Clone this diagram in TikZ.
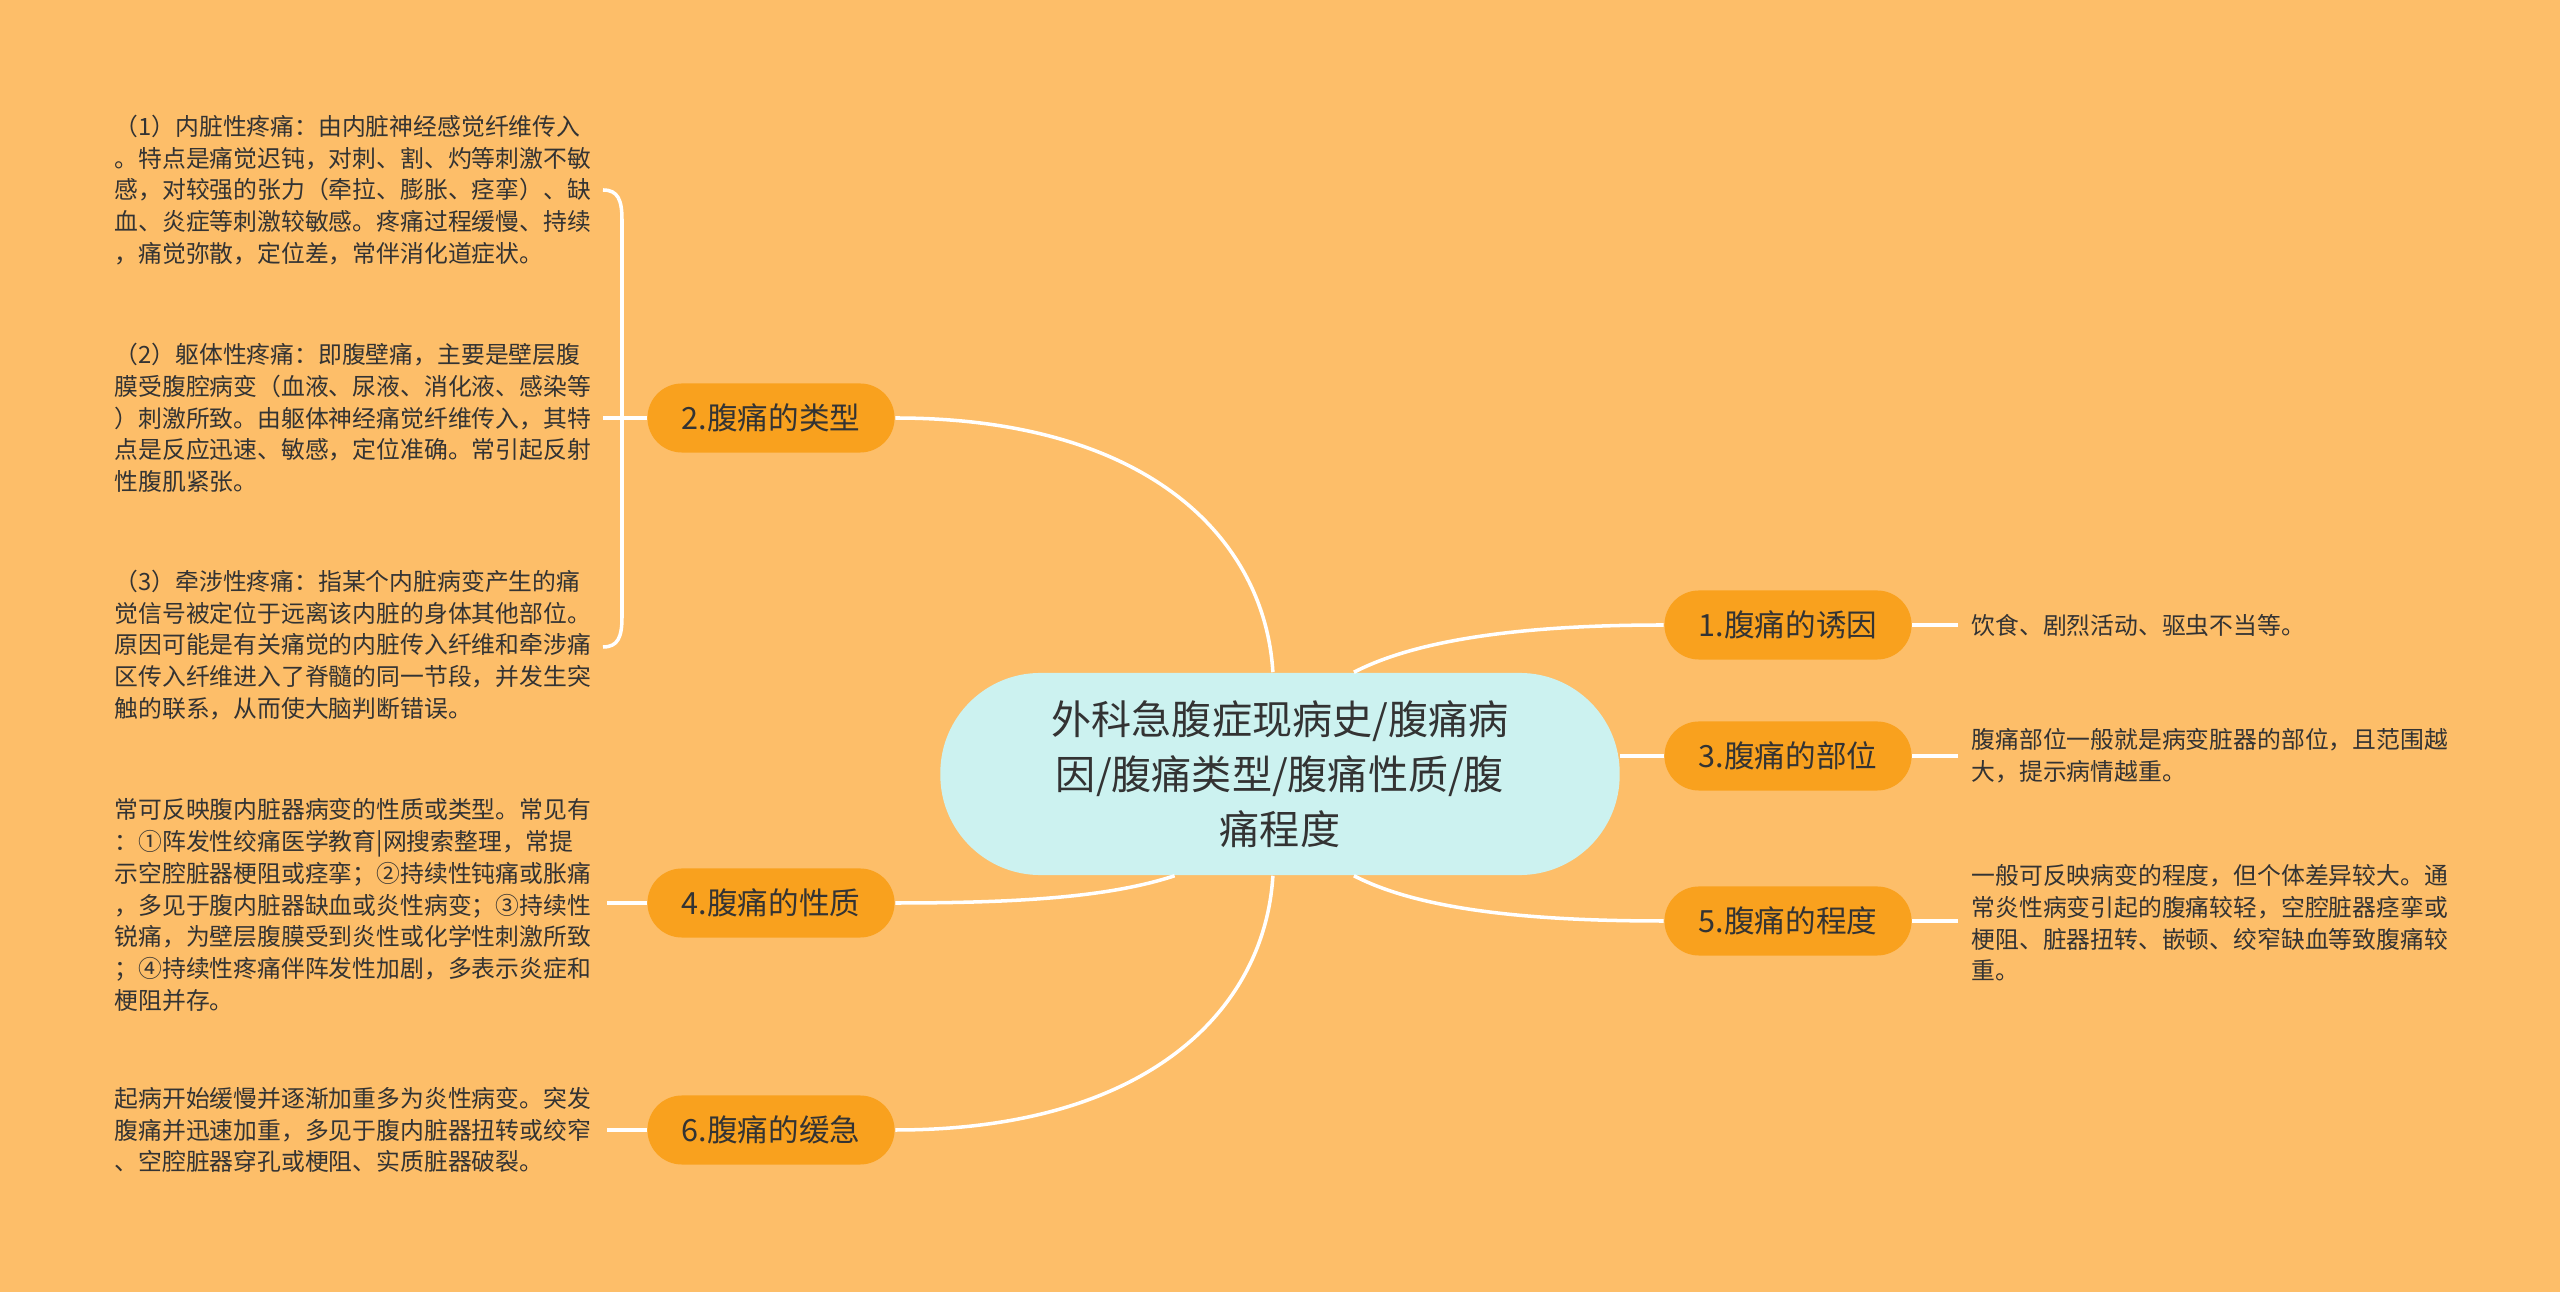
\documentclass[tikz,border=0pt]{standalone}
\usepackage{fontspec}
\setmainfont{Noto Sans CJK SC}
\usepackage{xcolor}
\usepackage{tikz}

\definecolor{bgorange}{RGB}{253,190,105}
\definecolor{branchorange}{RGB}{249,161,30}
\definecolor{rootcyan}{RGB}{204,242,240}
\definecolor{inkgray}{RGB}{51,51,51}

\tikzset{
	rootbox/.style={fill=rootcyan, rounded corners=1cm, minimum width=6.79cm, minimum height=2.02cm, align=center, text=inkgray, font=\fontsize{11.4pt}{15.6pt}\selectfont},
	branchbox/.style={fill=branchorange, rounded corners=0.345cm, minimum width=2.47cm, minimum height=0.69cm, inner sep=0pt, text=inkgray, font=\fontsize{8.7pt}{10pt}\selectfont},
	notetext/.style={anchor=west, align=left, inner sep=0pt, text=inkgray, font=\fontsize{6.77pt}{9.02pt}\selectfont},
	link/.style={draw=white, line width=1pt}
}

\begin{document}
\begin{tikzpicture}[x=0.01cm, y=-0.01cm]
				\fill[bgorange] (0,0) rectangle (2560,1292);
				\node[rootbox] (root) at (1280,774) {外科急腹症现病史/腹痛病\\因/腹痛类型/腹痛性质/腹\\痛程度};
				\node[branchbox] (cause) at (1788,625) {1.腹痛的诱因};
				\node[branchbox] (kind) at (771,418) {2.腹痛的类型};
				\node[branchbox] (place) at (1788,756) {3.腹痛的部位};
				\node[branchbox] (nature) at (771,903) {4.腹痛的性质};
				\node[branchbox] (degree) at (1788,921) {5.腹痛的程度};
				\node[branchbox] (pace) at (771,1130) {6.腹痛的缓急};
				\node[notetext] (causenote) at (1971,625) {饮食、剧烈活动、驱虫不当等。};
				\node[notetext] (placenote) at (1971,756) {腹痛部位一般就是病变脏器的部位，且范围越\\大，提示病情越重。};
				\node[notetext] (degreenote) at (1971,923) {一般可反映病变的程度，但个体差异较大。通\\常炎性病变引起的腹痛较轻，空腔脏器痉挛或\\梗阻、脏器扭转、嵌顿、绞窄缺血等致腹痛较\\重。};
				\node[notetext] (kindone) at (114,190) {（1）内脏性疼痛：由内脏神经感觉纤维传入\\。特点是痛觉迟钝，对刺、割、灼等刺激不敏\\感，对较强的张力（牵拉、膨胀、痉挛）、缺\\血、炎症等刺激较敏感。疼痛过程缓慢、持续\\，痛觉弥散，定位差，常伴消化道症状。};
				\node[notetext] (kindtwo) at (114,418) {（2）躯体性疼痛：即腹壁痛，主要是壁层腹\\膜受腹腔病变（血液、尿液、消化液、感染等\\）刺激所致。由躯体神经痛觉纤维传入，其特\\点是反应迅速、敏感，定位准确。常引起反射\\性腹肌紧张。};
				\node[notetext] (kindthree) at (114,645) {（3）牵涉性疼痛：指某个内脏病变产生的痛\\觉信号被定位于远离该内脏的身体其他部位。\\原因可能是有关痛觉的内脏传入纤维和牵涉痛\\区传入纤维进入了脊髓的同一节段，并发生突\\触的联系，从而使大脑判断错误。};
				\node[notetext] (naturenote) at (114,905) {常可反映腹内脏器病变的性质或类型。常见有\\：①阵发性绞痛医学教育|网搜索整理，常提\\示空腔脏器梗阻或痉挛；②持续性钝痛或胀痛\\，多见于腹内脏器缺血或炎性病变；③持续性\\锐痛，为壁层腹膜受到炎性或化学性刺激所致\\；④持续性疼痛伴阵发性加剧，多表示炎症和\\梗阻并存。};
				\node[notetext] (pacenote) at (114,1130) {起病开始缓慢并逐渐加重多为炎性病变。突发\\腹痛并迅速加重，多见于腹内脏器扭转或绞窄\\、空腔脏器穿孔或梗阻、实质脏器破裂。};
				\coordinate (btop) at (603,190);
				\coordinate (bbot) at (603,647);
				\coordinate (bmid) at (603,418);
				\draw[link] (root.94) .. controls (1265,540) and (1150,418) .. (kind.east);
				\draw[link] (root.224) .. controls (1110,897) and (1020,903) .. (nature.east);
				\draw[link] (root.266) .. controls (1265,1008) and (1150,1130) .. (pace.east);
				\draw[link] (root.54) .. controls (1420,638) and (1530,625) .. (cause.west);
				\draw[link] (root.east |- place.west) -- (place.west);
				\draw[link] (root.-54) .. controls (1420,910) and (1530,921) .. (degree.west);
				\draw[link] (cause.east) -- (causenote.west -| 1958,0);
				\draw[link] (place.east) -- (1958,756);
				\draw[link] (degree.east) -- (1958,921);
				\draw[link] (btop) .. controls (618,190) and (622,200) .. (622,220) -- (622,617) .. controls (622,637) and (618,647) .. (bbot);
				\draw[link] (kind.west) -- (bmid);
				\draw[link] (nature.west) -- (607,903);
				\draw[link] (pace.west) -- (607,1130);
			\end{tikzpicture}
\end{document}
